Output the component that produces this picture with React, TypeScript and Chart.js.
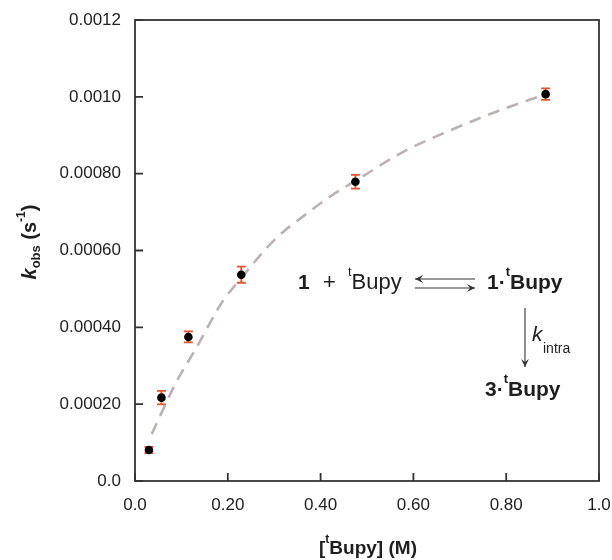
import React, { useEffect, useRef } from "react";
import { Chart, registerables } from "chart.js";

Chart.register(...registerables);

// measured data
const concBupy = [0.030, 0.057, 0.115, 0.229, 0.475, 0.885];
const kObs = [0.0000808, 0.000217, 0.000375, 0.000537, 0.000779, 0.001007];
const kErr = [0.000008, 0.0000175, 0.0000143, 0.000021, 0.0000178, 0.000015];

// fitted curve
const fitX = [0.036, 0.06, 0.09, 0.13, 0.19, 0.22, 0.30, 0.38, 0.42, 0.48, 0.58, 0.68, 0.78, 0.885];
const fitY = [0.000122, 0.000185, 0.00026, 0.000342, 0.00047, 0.000515, 0.000627, 0.000705, 0.00074, 0.000785, 0.000858, 0.000913, 0.000962, 0.001007];

const xTickLabels = ["0.0", "0.20", "0.40", "0.60", "0.80", "1.0"];
const yTickLabels = ["0.0", "0.00020", "0.00040", "0.00060", "0.00080", "0.0010", "0.0012"];

const FONT = '"Liberation Sans", Arial, Helvetica, sans-serif';

type Seg = { t: string; f: string; dy?: number };

function drawSegs(ctx: CanvasRenderingContext2D, x: number, y: number, segs: Seg[]) {
  let cx = x;
  for (const s of segs) {
    ctx.font = s.f;
    ctx.fillText(s.t, cx, y + (s.dy || 0));
    cx += ctx.measureText(s.t).width;
  }
  return cx;
}

function segsWidth(ctx: CanvasRenderingContext2D, segs: Seg[]) {
  let w = 0;
  for (const s of segs) {
    ctx.font = s.f;
    w += ctx.measureText(s.t).width;
  }
  return w;
}

function arrow(ctx: CanvasRenderingContext2D, x1: number, y1: number, x2: number, y2: number) {
  const ang = Math.atan2(y2 - y1, x2 - x1);
  ctx.beginPath();
  ctx.moveTo(x1, y1);
  ctx.lineTo(x2, y2);
  ctx.stroke();
  ctx.beginPath();
  ctx.moveTo(x2, y2);
  ctx.lineTo(x2 - 9 * Math.cos(ang - 0.45), y2 - 9 * Math.sin(ang - 0.45));
  ctx.lineTo(x2 - 5 * Math.cos(ang), y2 - 5 * Math.sin(ang));
  ctx.lineTo(x2 - 9 * Math.cos(ang + 0.45), y2 - 9 * Math.sin(ang + 0.45));
  ctx.closePath();
  ctx.fill();
}

const decorPlugin = {
  id: "decor",
  afterDatasetDraw(chart: any, args: any) {
    if (args.index !== 1) return;
    const ctx = chart.ctx as CanvasRenderingContext2D;
    const xs = chart.scales.x;
    const ys = chart.scales.y;
    ctx.save();
    ctx.strokeStyle = "#e4542e";
    ctx.lineWidth = 1.8;
    for (let i = 0; i < concBupy.length; i++) {
      const px = xs.getPixelForValue(concBupy[i]);
      const top = ys.getPixelForValue(kObs[i] + kErr[i]);
      const bot = ys.getPixelForValue(kObs[i] - kErr[i]);
      ctx.beginPath();
      ctx.moveTo(px, top);
      ctx.lineTo(px, bot);
      ctx.moveTo(px - 4.5, top);
      ctx.lineTo(px + 4.5, top);
      ctx.moveTo(px - 4.5, bot);
      ctx.lineTo(px + 4.5, bot);
      ctx.stroke();
    }
    ctx.restore();
  },
  afterDraw(chart: any) {
    const ctx = chart.ctx as CanvasRenderingContext2D;
    const a = chart.chartArea;
    const xs = chart.scales.x;
    const ys = chart.scales.y;
    ctx.save();
    // frame
    ctx.strokeStyle = "#333";
    ctx.lineWidth = 1.8;
    ctx.strokeRect(a.left, a.top, a.right - a.left, a.bottom - a.top);
    // inward ticks
    ctx.beginPath();
    xs.ticks.forEach((t: any) => {
      const px = xs.getPixelForValue(t.value);
      ctx.moveTo(px, a.bottom);
      ctx.lineTo(px, a.bottom - 8);
    });
    ys.ticks.forEach((t: any) => {
      const py = ys.getPixelForValue(t.value);
      ctx.moveTo(a.left, py);
      ctx.lineTo(a.left + 8, py);
    });
    ctx.stroke();

    ctx.fillStyle = "#1e1e1e";
    ctx.textBaseline = "middle";
    ctx.textAlign = "left";

    // y axis title
    const ySegs: Seg[] = [
      { t: "k", f: `italic bold 20px ${FONT}` },
      { t: "obs", f: `bold 13px ${FONT}`, dy: 6 },
      { t: " (s", f: `bold 20px ${FONT}` },
      { t: "-1", f: `bold 12px ${FONT}`, dy: -8 },
      { t: ")", f: `bold 20px ${FONT}` },
    ];
    ctx.save();
    ctx.translate(30, 242);
    ctx.rotate(-Math.PI / 2);
    drawSegs(ctx, -segsWidth(ctx, ySegs) / 2, 0, ySegs);
    ctx.restore();

    // x axis title
    const xSegs: Seg[] = [
      { t: "[", f: `bold 19px ${FONT}` },
      { t: "t", f: `bold 12px ${FONT}`, dy: -9 },
      { t: "Bupy] (M)", f: `bold 19px ${FONT}` },
    ];
    drawSegs(ctx, 368 - segsWidth(ctx, xSegs) / 2, 549, xSegs);

    // reaction scheme
    const b21 = `bold 21px ${FONT}`;
    const r22 = `22px ${FONT}`;
    const r13 = `13px ${FONT}`;
    const b13 = `bold 13px ${FONT}`;
    const y1 = 283;
    drawSegs(ctx, 298, y1, [{ t: "1", f: b21 }]);
    drawSegs(ctx, 323, y1, [{ t: "+", f: r22 }]);
    drawSegs(ctx, 348, y1, [
      { t: "t", f: r13, dy: -11 },
      { t: "Bupy", f: r22 },
    ]);
    ctx.strokeStyle = "#333";
    ctx.fillStyle = "#333";
    ctx.lineWidth = 1.1;
    arrow(ctx, 475, 279, 415, 279);
    arrow(ctx, 415, 288, 475, 288);
    arrow(ctx, 525, 308, 525, 367);
    ctx.fillStyle = "#1e1e1e";
    drawSegs(ctx, 487, y1, [
      { t: "1·", f: b21 },
      { t: "t", f: b13, dy: -11 },
      { t: "Bupy", f: b21 },
    ]);
    drawSegs(ctx, 532, 335, [{ t: "k", f: `italic 21px ${FONT}` }]);
    drawSegs(ctx, 543, 349, [{ t: "intra", f: `14px ${FONT}` }]);
    drawSegs(ctx, 485, 390, [
      { t: "3·", f: b21 },
      { t: "t", f: b13, dy: -11 },
      { t: "Bupy", f: b21 },
    ]);
    ctx.restore();
  },
};

export default function App() {
  const ref = useRef<HTMLCanvasElement | null>(null);
  useEffect(() => {
    if (!ref.current) return;
    const chart = new Chart(ref.current, {
      type: "scatter",
      data: {
        datasets: [
          {
            label: "kobs",
            data: concBupy.map((x, i) => ({ x, y: kObs[i] })),
            pointRadius: 4.3,
            pointBackgroundColor: "#000",
            pointBorderColor: "#000",
            pointBorderWidth: 0,
            showLine: false,
          },
          {
            label: "fit",
            data: fitX.map((x, i) => ({ x, y: fitY[i] })),
            showLine: true,
            pointRadius: 0,
            borderColor: "#bdb2b2",
            borderWidth: 2.6,
            borderDash: [12, 8],
            cubicInterpolationMode: "monotone",
            fill: false,
          },
        ],
      },
      options: {
        responsive: false,
        animation: false,
        devicePixelRatio: 1,
        layout: { padding: { top: 20, right: 13, left: 0, bottom: 0 } },
        plugins: { legend: { display: false }, tooltip: { enabled: false } },
        scales: {
          x: {
            type: "linear",
            min: 0,
            max: 1,
            grid: { display: false, drawTicks: false },
            border: { display: false },
            ticks: {
              stepSize: 0.2,
              padding: 14,
              color: "#222",
              font: { family: FONT, size: 17 },
              maxRotation: 0,
              callback: (_v: any, i: number) => xTickLabels[i],
            },
            afterFit: (s: any) => {
              s.height = 79;
              s.paddingLeft = 0;
              s.paddingRight = 0;
            },
          },
          y: {
            type: "linear",
            min: 0,
            max: 0.0012,
            grid: { display: false, drawTicks: false },
            border: { display: false },
            ticks: {
              stepSize: 0.0002,
              padding: 14,
              color: "#222",
              font: { family: FONT, size: 17 },
              callback: (_v: any, i: number) => yTickLabels[i],
            },
            afterFit: (s: any) => {
              s.width = 135;
              s.paddingTop = 0;
              s.paddingBottom = 0;
            },
          },
        },
      },
      plugins: [decorPlugin],
    } as any);
    return () => chart.destroy();
  }, []);
  return (
    <div style={{ position: "absolute", left: 0, top: 0, width: 612, height: 560, background: "#fff" }}>
      <canvas ref={ref} width={612} height={560} style={{ display: "block", width: 612, height: 560 }} />
    </div>
  );
}
